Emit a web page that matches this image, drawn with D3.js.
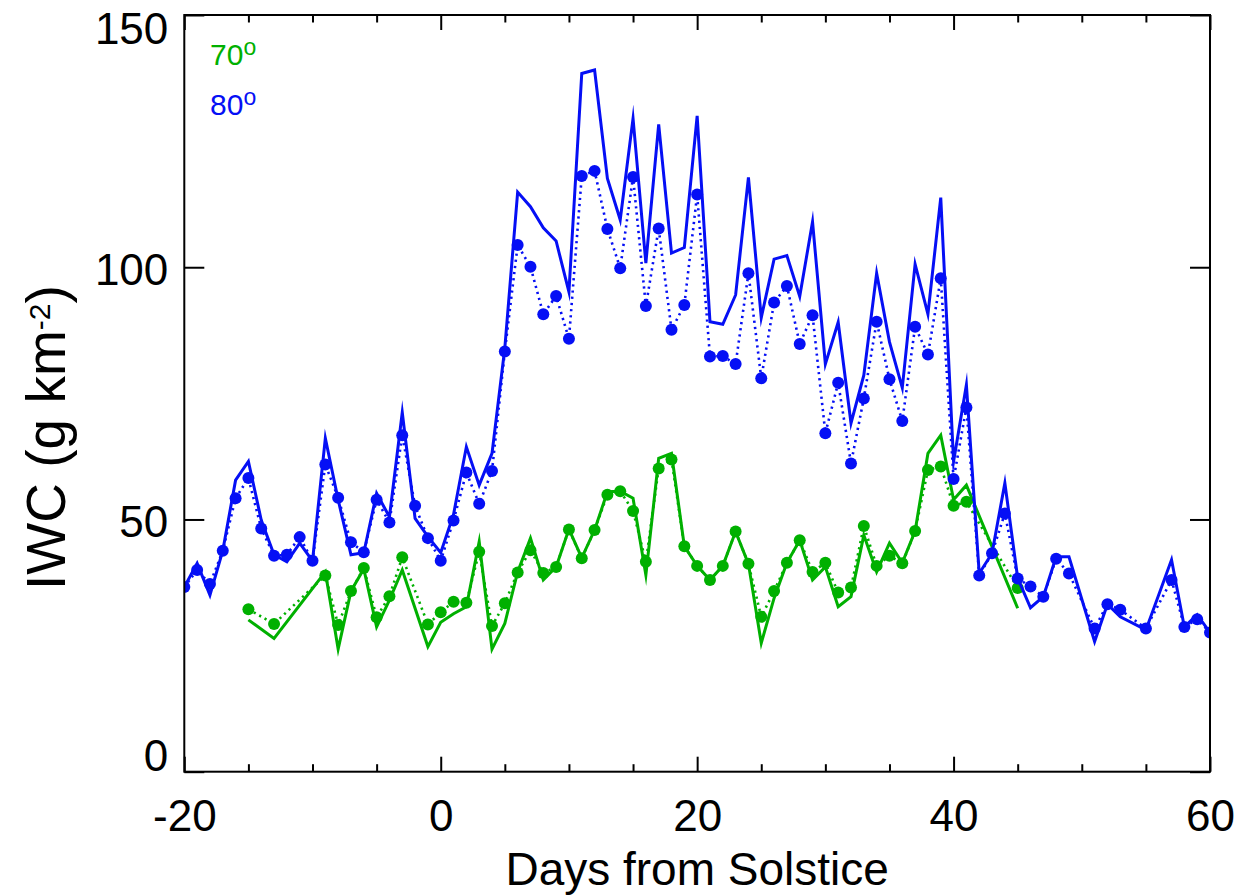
<!DOCTYPE html>
<html>
<head>
<meta charset="utf-8">
<script src="https://cdn.jsdelivr.net/npm/d3@7"></script>
<style>
  html, body { margin: 0; padding: 0; background: #fff; }
  svg { display: block; }
</style>
</head>
<body>
<svg id="chart" width="1240" height="895"></svg>
<script>
// ---- data: ice water content by day relative to solstice ----
const lat80Days = [-20,-19,-18,-17,-16,-15,-14,-13,-12,-11,-10,-9,-8,-7,-6,-5,-4,-3,-2,-1,
  0,1,2,3,4,5,6,7,8,9,10,11,12,13,14,15,16,17,18,19,20,21,22,23,24,25,26,27,28,29,
  30,31,32,33,34,35,36,37,38,39,40,41,42,43,44,45,46,47,48,49,51,52,53,55,57,58,59,60];
const lat80Solid = [36.6,41.3,35.0,43.8,57.8,61.5,49.9,43.0,41.6,45.3,41.8,66.1,53.9,43.0,43.4,55.2,50.5,71.2,50.2,46.6,
  43.4,51.0,64.4,56.8,63.1,84.0,114.9,112.0,107.8,105.2,95.1,138.4,139.1,117.6,109.4,129.5,100.8,128.3,102.8,103.9,
  130.0,89.2,88.7,94.5,117.8,90.0,101.6,102.3,94.2,109.0,80.8,89.1,69.1,78.6,98.8,85.2,76.1,100.6,90.7,113.8,
  61.5,76.7,39.3,43.3,57.2,38.4,32.5,34.7,42.6,42.6,25.8,33.2,30.7,28.1,42.0,28.7,31.1,27.6];
const lat80Dotted = [36.6,40.0,37.2,43.8,54.2,58.2,48.2,42.8,43.0,46.5,41.8,60.9,54.3,45.5,43.5,53.9,49.4,66.7,52.7,46.3,
  41.8,49.8,59.3,53.1,59.6,83.3,104.4,100.1,90.7,94.3,85.8,118.1,119.1,107.6,99.8,117.9,92.3,107.7,87.6,92.5,
  114.4,82.3,82.4,80.8,98.8,78.0,93.0,96.3,84.8,90.5,67.1,77.1,61.1,74.0,89.2,77.8,69.5,88.2,82.7,97.8,
  58.0,72.2,38.9,43.3,51.2,38.3,36.7,34.7,42.2,39.3,28.4,33.2,32.1,28.4,38.0,28.7,30.2,27.6];

const lat70Days = [-15,-13,-9,-8,-7,-6,-5,-4,-3,-1,
  0,1,2,3,4,5,6,7,8,9,10,11,12,13,14,15,16,17,18,19,20,21,22,23,24,25,26,27,28,29,
  30,31,32,33,34,35,36,37,38,39,40,41,45];
const lat70Solid = [30.1,26.4,39.6,24.3,35.8,40.2,28.7,34.0,40.0,24.8,
  29.6,31.3,32.7,45.6,24.3,29.4,39.6,46.3,38.0,40.6,48.1,42.4,47.9,55.5,55.6,54.2,39.0,62.1,63.1,44.7,
  40.8,38.0,40.8,47.6,41.2,25.5,34.4,41.4,45.9,38.0,40.6,32.7,34.7,46.9,39.6,45.3,41.4,47.7,63.1,66.7,
  53.9,56.8,32.4];
const lat70Dotted = [32.2,29.3,38.9,29.1,35.8,40.4,30.6,34.8,42.5,29.2,
  31.6,33.7,33.5,43.6,28.9,33.4,39.5,43.9,39.4,40.6,48.0,42.3,47.9,54.9,55.6,51.7,41.6,60.1,61.9,44.7,
  40.8,38.0,40.8,47.6,41.2,30.7,35.8,41.4,45.9,39.6,41.4,35.5,36.5,48.7,40.8,42.8,41.3,47.7,59.8,60.5,
  52.7,53.5,36.4];

const xTicks = [-20, 0, 20, 40, 60];
const xMinorStep = 5;
const yTicks = [0, 50, 100, 150];
const legendLabels = ["70", "80"];

// ---- layout ----
const W = 1240, H = 895;
const plot = { left: 184.3, right: 1210, top: 15, bottom: 771.7 };
const GREEN = "rgb(0,176,0)";
const BLUE = "rgb(5,15,245)";
const FONT = "'Liberation Sans', Arial, Helvetica, sans-serif";

const svg = d3.select("#chart");

const x = d3.scaleLinear().domain([-20, 60]).range([plot.left, plot.right]);
const y = d3.scaleLinear().domain([0, 150]).range([plot.bottom, plot.top]);

svg.append("defs").append("clipPath").attr("id", "plotClip")
  .append("rect")
  .attr("x", plot.left).attr("y", plot.top)
  .attr("width", plot.right - plot.left).attr("height", plot.bottom - plot.top);

const zip = (days, vals) => days.map((d, i) => [d, vals[i]]);
const line = d3.line().x(d => x(d[0])).y(d => y(d[1]));

const marks = svg.append("g").attr("clip-path", "url(#plotClip)");

function drawSeries(days, solid, dotted, color) {
  const g = marks.append("g");
  g.append("path")
    .datum(zip(days, solid))
    .attr("d", line)
    .attr("fill", "none")
    .attr("stroke", color)
    .attr("stroke-width", 3)
    .attr("stroke-linejoin", "miter")
    .attr("stroke-miterlimit", 10);
  g.append("path")
    .datum(zip(days, dotted))
    .attr("d", line)
    .attr("fill", "none")
    .attr("stroke", color)
    .attr("stroke-width", 2.6)
    .attr("stroke-dasharray", "2.2,4");
  g.selectAll("circle")
    .data(zip(days, dotted))
    .join("circle")
    .attr("cx", d => x(d[0]))
    .attr("cy", d => y(d[1]))
    .attr("r", 6)
    .attr("fill", color);
}

drawSeries(lat70Days, lat70Solid, lat70Dotted, GREEN);
drawSeries(lat80Days, lat80Solid, lat80Dotted, BLUE);

// ---- axes ----
const xMinor = d3.range(-20, 60 + 1e-9, xMinorStep).filter(v => !xTicks.includes(v));
const styleAxis = g => {
  g.select(".domain").remove();
  g.selectAll(".tick line").attr("stroke", "#000").attr("stroke-width", 2);
  g.selectAll("text").attr("font-family", FONT).attr("fill", "#000");
};

// bottom
svg.append("g").attr("transform", `translate(0,${plot.bottom})`)
  .call(d3.axisBottom(x).tickValues(xTicks).tickSize(-15).tickPadding(28).tickFormat(d => String(d)))
  .call(styleAxis)
  .call(g => g.selectAll("text").attr("font-size", 44));
svg.append("g").attr("transform", `translate(0,${plot.bottom})`)
  .call(d3.axisBottom(x).tickValues(xMinor).tickSize(-7.5).tickFormat(""))
  .call(styleAxis);

// top
svg.append("g").attr("transform", `translate(0,${plot.top})`)
  .call(d3.axisTop(x).tickValues(xTicks).tickSize(-15).tickFormat(""))
  .call(styleAxis);
svg.append("g").attr("transform", `translate(0,${plot.top})`)
  .call(d3.axisTop(x).tickValues(xMinor).tickSize(-7.5).tickFormat(""))
  .call(styleAxis);

// left
svg.append("g").attr("transform", `translate(${plot.left},0)`)
  .call(d3.axisLeft(y).tickValues(yTicks).tickSize(-20).tickPadding(16).tickFormat(d => String(d)))
  .call(styleAxis)
  .call(g => g.selectAll("text")
    .attr("font-size", 44)
    .attr("dy", null)
    .attr("y", d => d === 0 ? -1 : d === 150 ? 28.5 : 17));

// right
svg.append("g").attr("transform", `translate(${plot.right},0)`)
  .call(d3.axisRight(y).tickValues(yTicks).tickSize(-20).tickFormat(""))
  .call(styleAxis);

// frame
svg.append("rect")
  .attr("x", plot.left).attr("y", plot.top)
  .attr("width", plot.right - plot.left).attr("height", plot.bottom - plot.top)
  .attr("fill", "none").attr("stroke", "#000").attr("stroke-width", 2);

// ---- titles ----
svg.append("text")
  .attr("x", (plot.left + plot.right) / 2).attr("y", 885)
  .attr("text-anchor", "middle")
  .attr("font-family", FONT).attr("font-size", 46)
  .text("Days from Solstice");

const yTitle = svg.append("text")
  .attr("transform", "translate(65,590) rotate(-90)")
  .attr("text-anchor", "start")
  .attr("font-family", FONT).attr("font-size", 55);
yTitle.append("tspan").text("IWC (g km");
yTitle.append("tspan").attr("font-size", 30).attr("dy", -15).text("-2");
yTitle.append("tspan").attr("dy", 15).text(")");

// ---- legend ----
[[legendLabels[0], GREEN, 65], [legendLabels[1], BLUE, 115]].forEach(([label, color, base]) => {
  const t = svg.append("text")
    .attr("x", 210).attr("y", base)
    .attr("font-family", FONT).attr("font-size", 30)
    .attr("fill", color);
  t.append("tspan").text(label);
  t.append("tspan").attr("font-size", 23).attr("dy", -10).text("o");
});
</script>
</body>
</html>
